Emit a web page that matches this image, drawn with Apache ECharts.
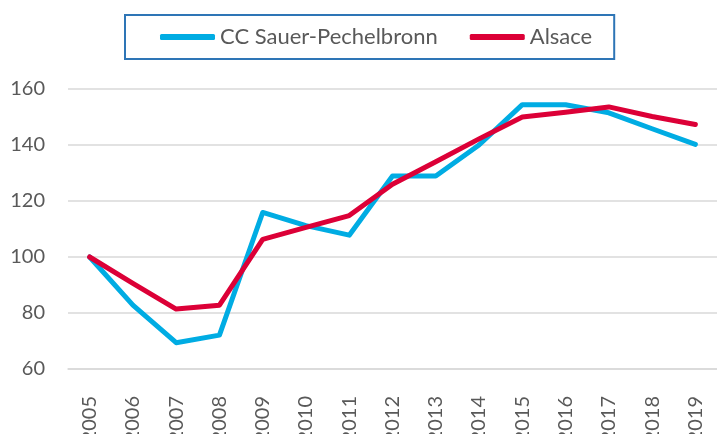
<!DOCTYPE html>
<html><head><meta charset="utf-8">
<script src="https://cdn.jsdelivr.net/npm/echarts@6/dist/echarts.min.js"></script>
<style>html,body{margin:0;padding:0;background:#fff}#c{width:717px;height:434px}</style>
</head><body><div id="c"></div>
<script>
const years = ['2005','2006','2007','2008','2009','2010','2011','2012','2013','2014','2015','2016','2017','2018','2019'];
const ccSauer = [100, 82.8, 69.4, 72.1, 115.9, 111.2, 107.8, 128.9, 128.9, 140, 154.4, 154.4, 151.5, 145.8, 140.2];
const alsace = [100, 90.6, 81.4, 82.8, 106.3, 110.6, 114.8, 126, 134, 142.2, 150, 151.7, 153.6, 150.2, 147.3];
const yTicks = {min: 60, max: 160, interval: 20};

const chart = echarts.init(document.getElementById('c'));
chart.setOption({
  animation: false,
  legend: {
    left: 125, top: 15,
    padding: [11, 22, 11, 35],
    borderColor: '#2E75B6', borderWidth: 2,
    itemWidth: 55, itemHeight: 6, itemGap: 32,
    icon: 'roundRect',
    textStyle: {fontFamily: 'Lato', fontSize: 22, color: '#595959'},
    data: ['CC Sauer-Pechelbronn', 'Alsace']
  },
  grid: {left: 68, right: 0, top: 89, bottom: 65, containLabel: false, outerBoundsMode: 'none'},
  xAxis: {
    type: 'category', data: years, boundaryGap: true,
    axisLine: {show: true, lineStyle: {color: '#D9D9D9', width: 1.5}},
    axisTick: {show: false},
    axisLabel: {rotate: 90, margin: 27, fontFamily: 'Lato', fontSize: 20, color: '#595959'}
  },
  yAxis: {
    type: 'value', min: yTicks.min, max: yTicks.max, interval: yTicks.interval,
    axisLine: {show: false}, axisTick: {show: false},
    splitLine: {lineStyle: {color: '#D9D9D9', width: 1.5}},
    axisLabel: {margin: 23, fontFamily: 'Lato', fontSize: 20, color: '#595959'}
  },
  series: [
    {name: 'CC Sauer-Pechelbronn', type: 'line', data: ccSauer, symbol: 'none',
     lineStyle: {color: '#00ACE3', width: 5, cap: 'round', join: 'round'}, itemStyle: {color: '#00ACE3'}},
    {name: 'Alsace', type: 'line', data: alsace, symbol: 'none',
     lineStyle: {color: '#DC0037', width: 5, cap: 'round', join: 'round'}, itemStyle: {color: '#DC0037'}}
  ]
});
</script></body></html>
